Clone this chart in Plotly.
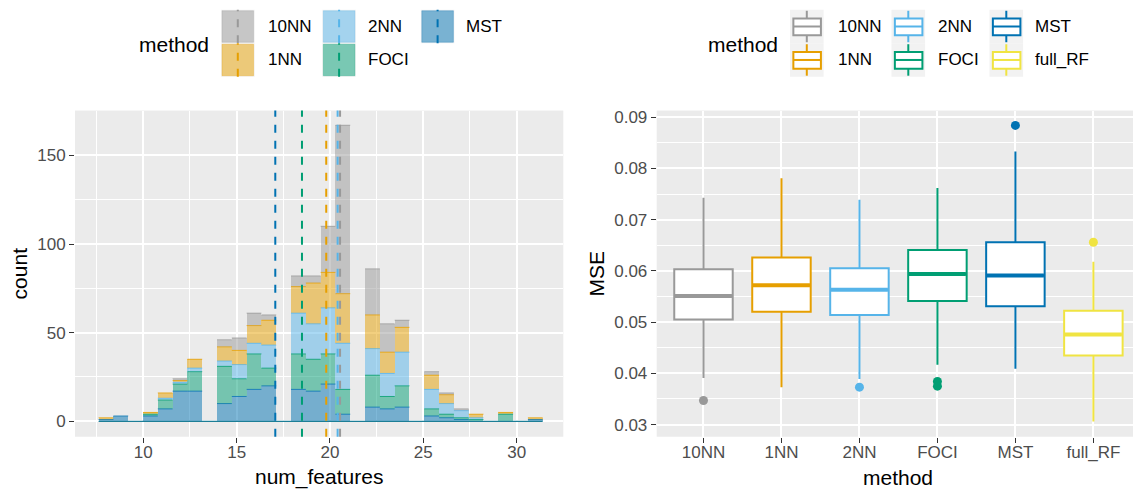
import numpy as np
import plotly.graph_objects as go

# ---------------- data ----------------
hist_methods = ["10NN", "1NN", "2NN", "FOCI", "MST"]
box_methods = ["10NN", "1NN", "2NN", "FOCI", "MST", "full_RF"]
palette = {"10NN": "#999999", "1NN": "#E69F00", "2NN": "#56B4E9",
           "FOCI": "#009E73", "MST": "#0072B2", "full_RF": "#F0E442"}

# histogram: 30 bins over num_features (min 8, max 31)
n_bins = 30
feat_min, feat_max = 8, 31

counts_MST  = [1, 3, 0, 3, 7, 17, 17, 0, 10, 14, 18, 20, 0, 18, 17, 21, 4, 0, 8, 7, 8, 0, 3, 2, 1, 0, 0, 0, 0, 1]
counts_FOCI = [0, 0, 0, 1, 5, 4, 11, 0, 21, 10, 20, 10, 0, 20, 18, 17, 14, 0, 18, 7, 12, 0, 4, 2, 1, 1, 0, 4, 0, 0]
counts_2NN  = [0, 0, 0, 0, 1, 1, 2, 0, 3, 8, 6, 13, 0, 23, 20, 26, 26, 0, 15, 13, 19, 0, 11, 6, 4, 1, 0, 0, 0, 0]
counts_1NN  = [1, 0, 0, 1, 3, 1, 5, 0, 8, 8, 10, 14, 0, 15, 23, 20, 28, 0, 19, 12, 14, 0, 8, 5, 0, 2, 0, 1, 0, 1]
counts_10NN = [0, 0, 0, 0, 0, 1, 0, 0, 4, 7, 7, 3, 0, 6, 4, 26, 95, 0, 26, 16, 4, 0, 2, 1, 1, 0, 0, 0, 0, 0]
hist_counts = {"MST": counts_MST, "FOCI": counts_FOCI, "2NN": counts_2NN,
               "1NN": counts_1NN, "10NN": counts_10NN}

# mean number of features per method (dashed lines)
mean_features = {"10NN": 20.54, "1NN": 19.80, "2NN": 20.41, "FOCI": 18.50, "MST": 17.07}

# boxplot statistics of MSE
mse_q1     = [0.0505, 0.0520, 0.0514, 0.0541, 0.0531, 0.0435]
mse_median = [0.0551, 0.0572, 0.0563, 0.0594, 0.0591, 0.0476]
mse_q3     = [0.0603, 0.0626, 0.0605, 0.0641, 0.0656, 0.0522]
mse_lower  = [0.0391, 0.0373, 0.0389, 0.0417, 0.0409, 0.0306]
mse_upper  = [0.0743, 0.0781, 0.0739, 0.0762, 0.0833, 0.0618]
mse_outliers = {"10NN": [0.0347], "1NN": [], "2NN": [0.0373],
                "FOCI": [0.0384, 0.0375], "MST": [0.0884], "full_RF": [0.0656]}

hist_xticks = [10, 15, 20, 25, 30]
count_ticks = [0, 50, 100, 150]
mse_ticks = [0.03, 0.04, 0.05, 0.06, 0.07, 0.08, 0.09]

# ---------------- helpers ----------------
W, H = 1133, 489
FONT = "Liberation Sans, Arial, Helvetica, sans-serif"
BG = "#EBEBEB"
TICKCOL = "#4D4D4D"


def rgba(hexc, a):
    h = hexc.lstrip("#")
    r, g, b = int(h[0:2], 16), int(h[2:4], 16), int(h[4:6], 16)
    return f"rgba({r},{g},{b},{a})"


def PX(x):
    return x / W


def PY(y):
    return 1 - y / H


fig = go.Figure()

# ---------------- histogram (stacked) ----------------
bin_width = (feat_max - feat_min) / (n_bins - 1)
edges = feat_min - bin_width / 2 + bin_width * np.arange(n_bins + 1)
centers = (edges[:-1] + edges[1:]) / 2

stack_order = ["MST", "FOCI", "2NN", "1NN", "10NN"]
for m in stack_order:
    fig.add_trace(go.Bar(
        x=centers, y=hist_counts[m], width=bin_width,
        marker=dict(color=rgba(palette[m], 0.5), line=dict(width=0)),
        xaxis="x", yaxis="y", showlegend=False, hoverinfo="skip"))

# outline of zero-height bins along the baseline
fig.add_trace(go.Scatter(x=[edges[0], edges[-1]], y=[0, 0], mode="lines",
                         line=dict(color="#1C7E96", width=1.2),
                         xaxis="x", yaxis="y", showlegend=False, hoverinfo="skip"))

# top edge of every stacked segment
cum = np.zeros(n_bins)
for m in stack_order:
    cum = cum + np.array(hist_counts[m])
    xs, ys = [], []
    for k in range(n_bins):
        if hist_counts[m][k] > 0:
            xs += [edges[k], edges[k + 1], None]
            ys += [cum[k], cum[k], None]
    fig.add_trace(go.Scatter(x=xs, y=ys, mode="lines",
                             line=dict(color=rgba(palette[m], 0.75), width=1),
                             xaxis="x", yaxis="y", showlegend=False, hoverinfo="skip"))

shapes = []
DASH = "8px,8px"
for m in hist_methods:
    shapes.append(dict(type="line", xref="x", yref="y domain",
                       x0=mean_features[m], x1=mean_features[m], y0=0, y1=1,
                       line=dict(color=palette[m], width=2, dash=DASH), layer="above"))

# ---------------- boxplot ----------------
positions = np.arange(1, len(box_methods) + 1)
box_w = 0.75
for i, m in enumerate(box_methods):
    p = positions[i]
    fig.add_trace(go.Box(
        x=[p], q1=[mse_q1[i]], median=[mse_median[i]], q3=[mse_q3[i]],
        lowerfence=[mse_lower[i]], upperfence=[mse_upper[i]],
        width=box_w, whiskerwidth=0, fillcolor="white",
        line=dict(color=palette[m], width=2), boxpoints=False,
        xaxis="x2", yaxis="y2", showlegend=False, hoverinfo="skip"))
    fig.add_trace(go.Scatter(
        x=[p - box_w / 2 + 0.01, p + box_w / 2 - 0.01], y=[mse_median[i]] * 2,
        mode="lines", line=dict(color=palette[m], width=4),
        xaxis="x2", yaxis="y2", showlegend=False, hoverinfo="skip"))
    if mse_outliers[m]:
        fig.add_trace(go.Scatter(
            x=[p] * len(mse_outliers[m]), y=mse_outliers[m], mode="markers",
            marker=dict(color=palette[m], size=9, line=dict(width=0)),
            xaxis="x2", yaxis="y2", showlegend=False, hoverinfo="skip"))

# ---------------- axes ----------------
y_dom = [PY(436.5), PY(109)]
common = dict(showline=False, zeroline=False, ticks="outside", ticklen=5,
              tickwidth=1.4, tickcolor="#333333", gridcolor="white", gridwidth=2,
              tickfont=dict(family=FONT, size=17, color=TICKCOL), showgrid=True)

fig.update_layout(
    xaxis=dict(domain=[PX(75), PX(563.3)], range=[6.34, 32.5], anchor="y",
               tickvals=hist_xticks, ticklabelstandoff=-5,
               minor=dict(tickvals=[7.5, 12.5, 17.5, 22.5, 27.5], showgrid=True,
                          gridcolor="white", gridwidth=1, ticks=""),
               **common),
    yaxis=dict(domain=y_dom, range=[-8.7, 175.3], anchor="x",
               tickvals=count_ticks,
               minor=dict(tickvals=[25, 75, 125, 175], showgrid=True,
                          gridcolor="white", gridwidth=1, ticks=""),
               **common),
    xaxis2=dict(domain=[PX(656.7), 1.0], range=[0.4, 6.508], anchor="y2",
                tickvals=list(positions), ticktext=box_methods, ticklabelstandoff=-5,
                **common),
    yaxis2=dict(domain=y_dom, range=[0.02763, 0.0913], anchor="x2",
                tickvals=mse_ticks, ticktext=[f"{v:.2f}" for v in mse_ticks],
                minor=dict(tickvals=[0.035, 0.045, 0.055, 0.065, 0.075, 0.085],
                           showgrid=True, gridcolor="white", gridwidth=1, ticks=""),
                **common),
    barmode="stack",
    plot_bgcolor=BG, paper_bgcolor="white",
    width=W, height=H, margin=dict(l=0, r=0, t=0, b=0),
    font=dict(family=FONT, color="black"),
)

annotations = []


def text(x, y, s, size=17, xanchor="left", angle=0, color="black"):
    annotations.append(dict(x=PX(x), y=PY(y), xref="paper", yref="paper", text=s,
                            showarrow=False, xanchor=xanchor, yanchor="middle",
                            textangle=angle, font=dict(family=FONT, size=size, color=color),
                            borderpad=0))


# axis titles
text(19, 272.5, "count", size=21, xanchor="center", angle=-90)
text(319, 477, "num_features", size=21, xanchor="center")
text(596, 272.5, "MSE", size=21, xanchor="center", angle=-90)
text(898, 477, "method", size=21, xanchor="center")

# ---------------- legends (drawn manually, ggplot style) ----------------
KEY = 33.6
row_y0 = [7.8, 41.4]

# left legend (histogram)
text(209.5, 43, "method", size=21, xanchor="right")
left_cols_x = [221.0, 322.3, 420.8]
left_label_x = [266.7, 366.7, 465.0]
left_layout = [("10NN", 0, 0), ("1NN", 0, 1), ("2NN", 1, 0), ("FOCI", 1, 1), ("MST", 2, 0)]
for m, c, r in left_layout:
    x0, y0 = left_cols_x[c], row_y0[r]
    shapes.append(dict(type="rect", xref="paper", yref="paper",
                       x0=PX(x0), x1=PX(x0 + KEY), y0=PY(y0 + KEY), y1=PY(y0),
                       fillcolor="#F2F2F2", line=dict(width=0), layer="above"))
    shapes.append(dict(type="rect", xref="paper", yref="paper",
                       x0=PX(x0 + 1), x1=PX(x0 + KEY - 1), y0=PY(y0 + KEY - 1), y1=PY(y0 + 1),
                       fillcolor=rgba(palette[m], 0.5),
                       line=dict(width=0.5, color=rgba(palette[m], 0.6)), layer="above"))
    shapes.append(dict(type="line", xref="paper", yref="paper",
                       x0=PX(x0 + KEY / 2), x1=PX(x0 + KEY / 2), y0=PY(y0 + KEY), y1=PY(y0),
                       line=dict(color=palette[m], width=2, dash=DASH), layer="above"))
    text(left_label_x[c], y0 + KEY / 2, m)

# right legend (boxplot)
text(778.5, 43, "method", size=21, xanchor="right")
right_cols_x = [790.0, 891.5, 989.5]
right_label_x = [836.7, 936.7, 1034.3]
right_layout = [("10NN", 0, 0), ("1NN", 0, 1), ("2NN", 1, 0), ("FOCI", 1, 1),
                ("MST", 2, 0), ("full_RF", 2, 1)]
for m, c, r in right_layout:
    x0, y0 = right_cols_x[c], row_y0[r]
    col = palette[m]
    shapes.append(dict(type="rect", xref="paper", yref="paper",
                       x0=PX(x0), x1=PX(x0 + KEY), y0=PY(y0 + KEY), y1=PY(y0),
                       fillcolor="#F2F2F2", line=dict(width=0), layer="above"))
    cx = x0 + KEY / 2
    shapes.append(dict(type="line", xref="paper", yref="paper",
                       x0=PX(cx), x1=PX(cx), y0=PY(y0 + 1), y1=PY(y0 + 0.26 * KEY),
                       line=dict(color=col, width=2), layer="above"))
    shapes.append(dict(type="line", xref="paper", yref="paper",
                       x0=PX(cx), x1=PX(cx), y0=PY(y0 + 0.76 * KEY), y1=PY(y0 + KEY - 1),
                       line=dict(color=col, width=2), layer="above"))
    shapes.append(dict(type="rect", xref="paper", yref="paper",
                       x0=PX(x0 + 0.1 * KEY), x1=PX(x0 + 0.92 * KEY),
                       y0=PY(y0 + 0.76 * KEY), y1=PY(y0 + 0.26 * KEY),
                       fillcolor="white", line=dict(color=col, width=2), layer="above"))
    shapes.append(dict(type="line", xref="paper", yref="paper",
                       x0=PX(x0 + 0.1 * KEY), x1=PX(x0 + 0.92 * KEY),
                       y0=PY(y0 + KEY / 2), y1=PY(y0 + KEY / 2),
                       line=dict(color=col, width=2), layer="above"))
    text(right_label_x[c], y0 + KEY / 2, m)

fig.update_layout(shapes=shapes, annotations=annotations)
fig.write_html("out.html")
